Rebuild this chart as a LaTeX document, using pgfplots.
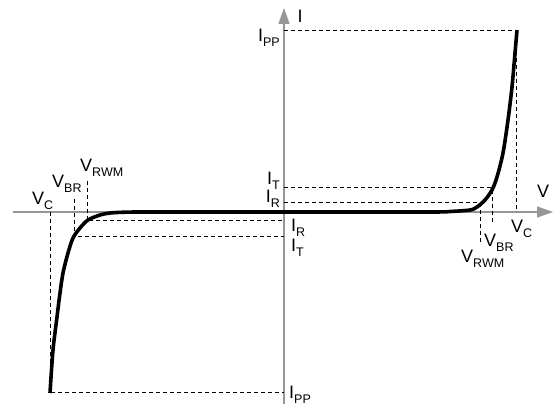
\documentclass[border=0pt]{standalone}
\usepackage{fontspec}
\setmainfont{Liberation Sans}
\usepackage{pgfplots}
\pgfplotsset{compat=1.18}
\usetikzlibrary{arrows.meta}
\definecolor{axgray}{RGB}{150,150,150}

\newcommand{\lbl}[2]{#1\raisebox{-5bp}{\fontsize{12.5bp}{12bp}\selectfont #2}}

\begin{document}
\begin{tikzpicture}[lab/.style={font=\fontsize{18bp}{20bp}\selectfont, inner sep=0pt}]
\begin{axis}[
    hide axis,
    scale only axis,
    width=555bp, height=409bp,
    xmin=-284, xmax=271, ymin=-197, ymax=212,
    clip=false,
]
% keep the full frame as the picture's bounds
\path (rel axis cs:0,0) rectangle (rel axis cs:1,1);

% axes
\addplot[axgray, line width=1.5bp, -{Triangle[length=16bp,width=11bp]}] coordinates {(-271,0) (269,0)};
\addplot[axgray, line width=1.5bp, -{Triangle[length=16bp,width=11bp]}] coordinates {(0,-192) (0,204)};

% guide lines, right side
\addplot[black, line width=1bp, dash pattern=on 4bp off 3bp] coordinates {(0,181) (232,181) (232,0)};
\addplot[black, line width=1bp, dash pattern=on 4bp off 3bp] coordinates {(0,24) (208,24) (208,-11)};
\addplot[black, line width=1bp, dash pattern=on 4bp off 3bp] coordinates {(0,9) (196,9) (196,-32)};
% guide lines, left side
\addplot[black, line width=1bp, dash pattern=on 4bp off 3bp] coordinates {(-234,0) (-234,-181) (0,-181)};
\addplot[black, line width=1bp, dash pattern=on 4bp off 3bp] coordinates {(-210,13) (-210,-25) (0,-25)};
\addplot[black, line width=1bp, dash pattern=on 4bp off 3bp] coordinates {(-197,31) (-197,-9) (0,-9)};

% I-V curve
\addplot[black, line width=3.6bp, smooth, tension=0.5] coordinates {
    (-234,-181) (-231,-138) (-227,-105) (-224,-81) (-221,-61) (-216,-41)
    (-211,-26) (-204,-16) (-196,-8) (-184,-3) (-174,-1) (-159,-0.2)
    (-134,0) (0,0) (146,0) (166,0.5) (186,2) (193,5) (201,12)
    (208,22) (213,35) (219,59) (224,92) (228,125) (231,159) (233,182)
};

% labels
\node[lab, anchor=base] at (axis cs:16,189) {I};
\node[lab, anchor=base] at (axis cs:259,14) {V};
\node[lab, anchor=base east] at (axis cs:-4,170) {\lbl{I}{PP}};
\node[lab, anchor=base east] at (axis cs:-4,27) {\lbl{I}{T}};
\node[lab, anchor=base east] at (axis cs:-4,9) {\lbl{I}{R}};
\node[lab, anchor=base west] at (axis cs:7,-20) {\lbl{I}{R}};
\node[lab, anchor=base west] at (axis cs:7,-40) {\lbl{I}{T}};
\node[lab, anchor=base west] at (axis cs:5,-186) {\lbl{I}{PP}};
\node[lab, anchor=base west] at (axis cs:-252,7) {\lbl{V}{C}};
\node[lab, anchor=base west] at (axis cs:-232,24) {\lbl{V}{BR}};
\node[lab, anchor=base west] at (axis cs:-204,40) {\lbl{V}{RWM}};
\node[lab, anchor=base west] at (axis cs:227,-21) {\lbl{V}{C}};
\node[lab, anchor=base west] at (axis cs:200,-35) {\lbl{V}{BR}};
\node[lab, anchor=base west] at (axis cs:177,-51) {\lbl{V}{RWM}};
\end{axis}
\end{tikzpicture}
\end{document}
